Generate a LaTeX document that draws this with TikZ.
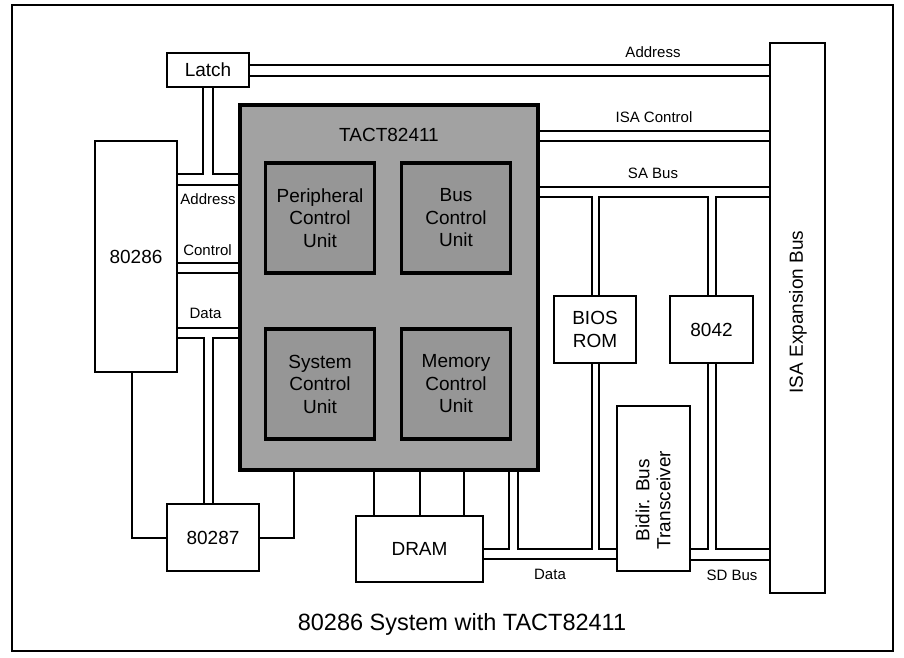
\documentclass[tikz,border=0pt]{standalone}
\usepackage{fontspec}
\setmainfont{Liberation Sans}
\begin{document}
\begin{tikzpicture}[x=1pt,y=1pt,yscale=-1,
		blk/.style={draw, line width=2.6pt, fill=white, inner sep=0pt, outer sep=0pt, align=center, font=\fontsize{19}{22.5}\selectfont},
		unit/.style={blk, line width=3.2pt, fill={rgb, 255:red, 150; green, 150; blue, 150}},
		txt/.style={blk, draw=none, fill=none},
		bus/.style={line width=2pt},
		tag/.style={inner sep=0pt, font=\fontsize{15}{18}\selectfont}]
				\useasboundingbox (0,0) rectangle (904,657);
				%Frame
				\draw [line width=1.4pt] (12,5) rectangle (893,651);
				
				%Blocks
				\node [blk, minimum width=82, minimum height=34] (latch) at (208,70) {Latch};
				\node [blk, minimum width=82, minimum height=231] (cpu) at (136,256.5) {80286};
				\node [blk, minimum width=92, minimum height=67] (fpu) at (213,537.5) {80287};
				\node [blk, minimum width=127, minimum height=66] (dram) at (419.5,549) {DRAM};
				\node [blk, minimum width=82, minimum height=67] (bios) at (595,329.5) {BIOS\\ROM};
				\node [blk, minimum width=83, minimum height=67] (kbc) at (711.5,329.5) {8042};
				\node [blk, minimum width=73, minimum height=165] (xcvr) at (653.5,488.5) {};
				\node [txt, font=\fontsize{19}{21}\selectfont, rotate=90] (xcvrtxt) at (653,500) {Bidir. Bus\\Transceiver};
				\node [blk, minimum width=55, minimum height=550] (isa) at (797.5,318) {};
				\node [txt, rotate=90] (isatxt) at (798,312) {ISA Expansion Bus};
				
				%Chip with its four units
				\node [blk, line width=4.5pt, minimum width=298, minimum height=365, fill={rgb, 255:red, 162; green, 162; blue, 162}] (chip) at (389,287.5) {};
				\node [txt] (chiptxt) at (389,135) {TACT82411};
				\node [unit, minimum width=109, minimum height=110] (pcu) at (320,218) {Peripheral\\Control\\Unit};
				\node [unit, minimum width=109, minimum height=110] (bcu) at (456,218) {Bus\\Control\\Unit};
				\node [unit, minimum width=109, minimum height=110] (scu) at (320,384) {System\\Control\\Unit};
				\node [unit, minimum width=109, minimum height=110] (mcu) at (456,384) {Memory\\Control\\Unit};
				
				%Address bus, latch to ISA
				\draw [bus] (latch.east |- 0,65) -- (isa.west |- 0,65);
				\draw [bus] (latch.east |- 0,76) -- (isa.west |- 0,76);
				%Address, 80286 to chip
				\draw [bus] (203,0 |- latch.south) -- (203,174) -- (cpu.east |- 0,174);
				\draw [bus] (213,0 |- latch.south) -- (213,174) -- (chip.west |- 0,174);
				\draw [bus] (cpu.east |- 0,185) -- (chip.west |- 0,185);
				%Control
				\draw [bus] (cpu.east |- 0,263) -- (chip.west |- 0,263);
				\draw [bus] (cpu.east |- 0,273) -- (chip.west |- 0,273);
				%Data, with branch to 80287
				\draw [bus] (cpu.east |- 0,328) -- (chip.west |- 0,328);
				\draw [bus] (cpu.east |- 0,338) -- (204,338) -- (204,0 |- fpu.north);
				\draw [bus] (chip.west |- 0,338) -- (213,338) -- (213,0 |- fpu.north);
				%80287 control
				\draw [bus] (132,0 |- cpu.south) -- (132,538) -- (fpu.west |- 0,538);
				\draw [bus] (294,0 |- chip.south) -- (294,538) -- (fpu.east |- 0,538);
				
				%DRAM and local data
				\foreach \x in {374,420,464}
					\draw [bus] (\x,0 |- chip.south) -- (\x,0 |- dram.north);
				\draw [bus] (509,0 |- chip.south) -- (509,549) -- (dram.east |- 0,549);
				\draw [bus] (518,0 |- chip.south) -- (518,549) -- (592,549) -- (592,0 |- bios.south);
				\draw [bus] (599,0 |- bios.south) -- (599,549) -- (xcvr.west |- 0,549);
				\draw [bus] (dram.east |- 0,559) -- (xcvr.west |- 0,559);
				%SD bus
				\draw [bus] (xcvr.east |- 0,549) -- (708,549) -- (708,0 |- kbc.south);
				\draw [bus] (716,0 |- kbc.south) -- (716,549) -- (isa.west |- 0,549);
				\draw [bus] (xcvr.east |- 0,560) -- (isa.west |- 0,560);
				
				%ISA control
				\draw [bus] (chip.east |- 0,131) -- (isa.west |- 0,131);
				\draw [bus] (chip.east |- 0,141) -- (isa.west |- 0,141);
				%SA bus
				\draw [bus] (chip.east |- 0,187) -- (isa.west |- 0,187);
				\draw [bus] (chip.east |- 0,197) -- (592,197) -- (592,0 |- bios.north);
				\draw [bus] (599,0 |- bios.north) -- (599,197) -- (708,197) -- (708,0 |- kbc.north);
				\draw [bus] (716,0 |- kbc.north) -- (716,197) -- (isa.west |- 0,197);
				
				%Bus labels
				\node [tag] (tadr) at (653,52) {Address};
				\node [tag] (tisac) at (654,117) {ISA Control};
				\node [tag] (tsa) at (653,173) {SA Bus};
				\node [tag] (tadrl) at (208,199) {Address};
				\node [tag] (tctl) at (207.5,250) {Control};
				\node [tag] (tdatl) at (205.5,313) {Data};
				\node [tag] (tdat) at (550,574) {Data};
				\node [tag] (tsd) at (732,575) {SD Bus};
				
				%Caption
				\node [inner sep=0pt, font=\fontsize{23.5}{28}\selectfont] (caption) at (462,624) {80286 System with TACT82411};
			\end{tikzpicture}
\end{document}
